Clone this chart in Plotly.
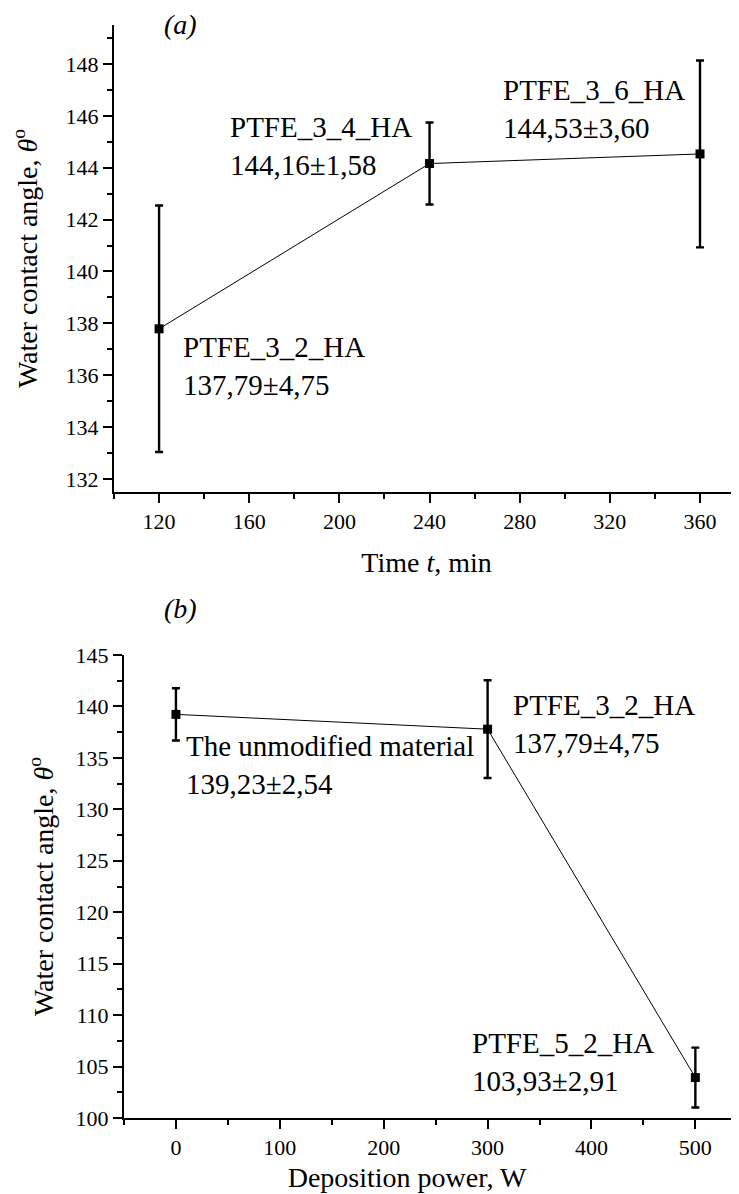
import plotly.graph_objects as go

# Page body has an 8px default margin; figure size compensates for it
OFF = 8
W, H = 739 - OFF, 1194 - OFF

# Panel (a): contact angle vs time
time_min = [120, 240, 360]
angle_a = [137.79, 144.16, 144.53]
err_a = [4.75, 1.58, 3.60]
labels_a = ["PTFE_3_2_HA<br>137,79±4,75", "PTFE_3_4_HA<br>144,16±1,58", "PTFE_3_6_HA<br>144,53±3,60"]
label_pos_a = [(129.8, 136.35), (150.7, 144.85), (271.6, 146.27)]

# Panel (b): contact angle vs deposition power
power_w = [0, 300, 500]
angle_b = [139.23, 137.79, 103.93]
err_b = [2.54, 4.75, 2.91]
labels_b = ["The unmodified material<br>139,23±2,54", "PTFE_3_2_HA<br>137,79±4,75", "PTFE_5_2_HA<br>103,93±2,91"]
label_pos_b = [(7.7, 134.27), (323, 138.25), (282.7, 105.44)]

FONT = "Liberation Serif, Times New Roman, serif"

def px_x(p):
    return (p - OFF) / W

def px_y(p):
    return 1 - (p - OFF) / H

fig = go.Figure()

common_err = dict(type="data", visible=True, color="black", thickness=2.4, width=4)

fig.add_trace(go.Scatter(
    x=time_min, y=angle_a, mode="lines+markers",
    line=dict(color="black", width=1),
    marker=dict(symbol="square", size=9, color="black"),
    error_y=dict(array=err_a, **common_err),
    xaxis="x", yaxis="y", showlegend=False))

fig.add_trace(go.Scatter(
    x=power_w, y=angle_b, mode="lines+markers",
    line=dict(color="black", width=1),
    marker=dict(symbol="square", size=9, color="black"),
    error_y=dict(array=err_b, **common_err),
    xaxis="x2", yaxis="y2", showlegend=False))

axis_style = dict(
    showline=True, linecolor="black", linewidth=2,
    ticks="outside", ticklen=9, tickwidth=2, tickcolor="black",
    showgrid=False, zeroline=False,
    tickfont=dict(family=FONT, size=22, color="black"),
    title_font=dict(family=FONT, size=28, color="black"),
    automargin=False, mirror=False,
)
minor_style = dict(ticks="outside", ticklen=5, tickwidth=2, tickcolor="black", showgrid=False)

fig.update_layout(
    width=W, height=H,
    margin=dict(l=0, r=0, t=0, b=0),
    paper_bgcolor="white", plot_bgcolor="white",
    font=dict(family=FONT, color="black"),
    xaxis=dict(domain=[px_x(114), 1], range=[100, 377.3], tickmode="array",
               tickvals=[120, 160, 200, 240, 280, 320, 360],
               minor=dict(dtick=20, tick0=100, **minor_style),
               anchor="y", title=dict(text="Time <i>t</i>, min", standoff=19), **axis_style),
    yaxis=dict(domain=[px_y(492), px_y(25)], range=[131.5, 149.5], dtick=2, tick0=132,
               minor=dict(dtick=1, **minor_style),
               anchor="x", title=dict(text="Water contact angle, <i>θ</i><sup>o</sup>", standoff=21), **axis_style),
    xaxis2=dict(domain=[px_x(124), 1], range=[-50, 542], dtick=100, tick0=0,
                minor=dict(dtick=50, tick0=-50, **minor_style),
                anchor="y2", title=dict(text="Deposition power, W" + "&nbsp;" * 7, standoff=8), **axis_style),
    yaxis2=dict(domain=[px_y(1118), px_y(655)], range=[100, 145], dtick=5, tick0=100,
                minor=dict(dtick=2.5, **minor_style),
                anchor="x2", title=dict(text="Water contact angle, <i>θ</i><sup>o</sup>", standoff=14), **axis_style),
)

ann_font = dict(family=FONT, size=29, color="black")
for (x, y), t in zip(label_pos_a, labels_a):
    fig.add_annotation(x=x, y=y, xref="x", yref="y", text=t, showarrow=False,
                       xanchor="left", yanchor="middle", align="left", font=ann_font)
for (x, y), t in zip(label_pos_b, labels_b):
    fig.add_annotation(x=x, y=y, xref="x2", yref="y2", text=t, showarrow=False,
                       xanchor="left", yanchor="middle", align="left", font=ann_font)

panel_font = dict(family=FONT, size=28, color="black")
fig.add_annotation(x=px_x(180), y=px_y(25), xref="paper", yref="paper", text="<i>(a)</i>",
                   showarrow=False, xanchor="center", yanchor="middle", font=panel_font)
fig.add_annotation(x=px_x(180), y=px_y(608), xref="paper", yref="paper", text="<i>(b)</i>",
                   showarrow=False, xanchor="center", yanchor="middle", font=panel_font)

fig.write_html("out.html")
